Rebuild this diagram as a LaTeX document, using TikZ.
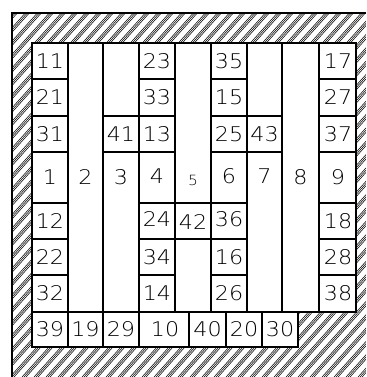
\documentclass[tikz,border=0pt]{standalone}
\usepackage{fontspec}
\newfontfamily\platefont[FakeStretch=1.1]{DejaVu Sans ExtraLight}
\usetikzlibrary{positioning}

\begin{document}
\begin{tikzpicture}[x=0.02cm, y=-0.02cm,
    wall/.style={line width=0.6pt, black},
    hatch/.style={line width=0.3pt, black},
    num/.style={font=\platefont\fontsize{11.5}{13}\selectfont, inner sep=0pt},
    tiny/.style={font=\platefont\fontsize{8}{9}\selectfont, inner sep=0pt},
]
\useasboundingbox (0,0) rectangle (366,377);

% Hatched wall round the stack
\begin{scope}[even odd rule]
  \clip (12,13) rectangle (366,377)
    (32,43) -- (356,43) -- (356,312) -- (298,312) -- (298,347) -- (32,347) -- cycle;
  \foreach \a in {-350,-338,...,366}
    \foreach \d in {0,2,4}
      \draw[hatch] (\a+\d,377) -- ++(339,-377);
\end{scope}
\draw[wall] (366,13) -- (12,13) -- (12,377);

% Outline and columns
\draw[wall] (32,43) rectangle (356,312);
\draw[wall] (32,312) rectangle (298,347);
\foreach \x in {68,103,139,175,211,247,319}
  \draw[wall] (\x,43) -- (\x,312);
\draw[wall, line width=0.9pt] (282,43) -- (282,312);
\foreach \x in {68,103,139,189,226,262}
  \draw[wall] (\x,312) -- (\x,347);

% Cell dividers
\foreach \a/\b in {32/68, 139/175, 211/247, 319/356}
  \foreach \y in {79,116,152,203,239,275}
    \draw[wall] (\a,\y) -- (\b,\y);
\draw[wall] (103,116) -- (139,116) (103,152) -- (139,152);
\draw[wall] (247,116) -- (282,116) (247,152) -- (282,152);
\draw[wall] (175,203) -- (211,203) (175,239) -- (211,239);

% Row 1 and 2
\node[num] (p11) at (50,61) {11};
\node[num] (p23) at (157,61) {23};
\node[num] (p35) at (229,61) {35};
\node[num] (p17) at (338,61) {17};
\node[num] (p21) at (50,97.5) {21};
\node[num] (p33) at (157,97.5) {33};
\node[num] (p15) at (229,97.5) {15};
\node[num] (p27) at (338,97.5) {27};

% Row 3
\node[num] (p31) at (50,134) {31};
\node[num] (p41) at (121,134) {41};
\node[num] (p13) at (157,134) {13};
\node[num] (p25) at (229,134) {25};
\node[num] (p43) at (264.5,134) {43};
\node[num] (p37) at (338,134) {37};

% Middle row
\node[num] (p1) at (50,177) {1};
\node[num] (p2) at (85.5,177) {2};
\node[num] (p3) at (121,177) {3};
\node[num] (p4) at (157,176) {4};
\node[tiny] (p5) at (193,180) {5};
\node[num] (p6) at (229,176) {6};
\node[num] (p7) at (264.5,176) {7};
\node[num] (p8) at (300.5,177) {8};
\node[num] (p9) at (338,177) {9};

% Rows 5 to 7
\node[num] (p12) at (50,221) {12};
\node[num] (p24) at (157,219.5) {24};
\node[num] (p42) at (193,222) {42};
\node[num] (p36) at (229,219.5) {36};
\node[num] (p18) at (338,221) {18};
\node[num] (p22) at (50,257) {22};
\node[num] (p34) at (157,257) {34};
\node[num] (p16) at (229,257) {16};
\node[num] (p28) at (338,257) {28};
\node[num] (p32) at (50,293.5) {32};
\node[num] (p14) at (157,293.5) {14};
\node[num] (p26) at (229,293.5) {26};
\node[num] (p38) at (338,293.5) {38};

% Bottom row
\node[num] (p39) at (50,329.5) {39};
\node[num] (p19) at (85.5,329.5) {19};
\node[num] (p29) at (121,329.5) {29};
\node[num] (p10) at (165,329.5) {10};
\node[num] (p40) at (207.5,329.5) {40};
\node[num] (p20) at (244,329.5) {20};
\node[num] (p30) at (280,329.5) {30};

\end{tikzpicture}
\end{document}
